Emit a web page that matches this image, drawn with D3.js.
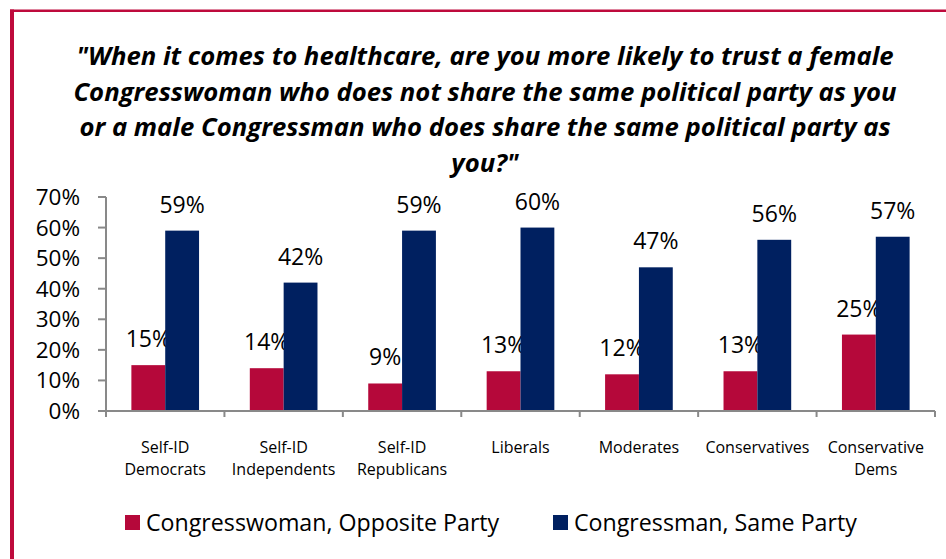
<!DOCTYPE html>
<html><head><meta charset="utf-8">
<script src="https://cdn.jsdelivr.net/npm/d3@7"></script>
<style>body{margin:0;background:#fff}svg{display:block}</style>
</head><body>
<script>
const categories = [["Self-ID","Democrats"],["Self-ID","Independents"],["Self-ID","Republicans"],["Liberals"],["Moderates"],["Conservatives"],["Conservative","Dems"]];
const seriesNames = ["Congresswoman, Opposite Party","Congressman, Same Party"];
const womanOpposite = [0.15,0.14,0.09,0.13,0.12,0.13,0.25];
const manSame = [0.59,0.42,0.59,0.60,0.47,0.56,0.57];
const yTicks = [0,0.1,0.2,0.3,0.4,0.5,0.6,0.7];
const titleLines = ['"When it comes to healthcare, are you more likely to trust a female','Congresswoman who does not share the same political party as you','or a male Congressman who does share the same political party as','you?"'];
const colors = ["#B5083A","#002060"];

const W=946,H=559;
const svg=d3.select("body").append("svg").attr("width",W).attr("height",H);
const font="'Open Sans', Lato, sans-serif";
// frame
svg.append("line").attr("x1",10).attr("x2",W).attr("y1",10.75).attr("y2",10.75).attr("stroke","#BE0A3C").attr("stroke-width",2.5);
svg.append("line").attr("x1",12).attr("x2",12).attr("y1",9.5).attr("y2",H).attr("stroke","#BE0A3C").attr("stroke-width",4);

// title
svg.append("g").selectAll("text").data(titleLines).join("text")
 .attr("x",485).attr("y",(d,i)=>65+i*35.5).attr("text-anchor","middle")
 .attr("font-family",font).attr("font-weight","bold").attr("font-style","italic").attr("font-size",25.7).attr("fill","#000").text(d=>d);

const idx=d3.range(categories.length);
const x=d3.scaleBand().domain(idx).range([106,935]).paddingInner(0).paddingOuter(0);
const y=d3.scaleLinear().domain([0,0.7]).range([411,197]);
const bw=x.bandwidth(), barW=bw/3.5, off=barW*0.75;
const axisCol="#898989";

// y axis
svg.append("line").attr("x1",106).attr("x2",106).attr("y1",y(0.7)).attr("y2",y(0)).attr("stroke",axisCol).attr("stroke-width",2);
const yt=svg.append("g");
yt.selectAll("line").data(yTicks).join("line").attr("x1",98).attr("x2",106).attr("y1",d=>y(d)).attr("y2",d=>y(d)).attr("stroke",axisCol).attr("stroke-width",2);
yt.selectAll("text").data(yTicks).join("text").attr("x",80).attr("y",d=>y(d)+8).attr("text-anchor","end")
 .attr("font-family",font).attr("font-size",22.5).attr("fill","#000").text(d=>d3.format(".0%")(d));

// bars
const series=[womanOpposite,manSame];
series.forEach((vals,s)=>{
  const g=svg.append("g");
  g.selectAll("rect").data(vals).join("rect")
   .attr("x",(d,i)=>x(i)+off+s*barW).attr("width",barW)
   .attr("y",d=>y(d)).attr("height",d=>y(0)-y(d)).attr("fill",colors[s]);
  g.selectAll("text").data(vals).join("text")
   .attr("x",(d,i)=>x(i)+off+s*barW+barW/2).attr("y",d=>y(d)-18).attr("text-anchor","middle")
   .attr("font-family",font).attr("font-size",23).attr("fill","#000").text(d=>d3.format(".0%")(d));
});

// x axis
svg.append("line").attr("x1",98).attr("x2",935).attr("y1",y(0)).attr("y2",y(0)).attr("stroke",axisCol).attr("stroke-width",2);
const bounds=idx.map(i=>x(i)).concat([x(idx[idx.length-1])+bw]);
svg.append("g").selectAll("line").data(bounds).join("line").attr("x1",d=>d).attr("x2",d=>d).attr("y1",y(0)).attr("y2",y(0)+6).attr("stroke",axisCol).attr("stroke-width",2);
const xl=svg.append("g").selectAll("text").data(categories).join("text")
 .attr("font-family",font).attr("font-size",16).attr("fill","#000").attr("text-anchor","middle");
xl.each(function(d,i){
  d3.select(this).selectAll("tspan").data(d).join("tspan").attr("x",x(i)+bw/2).attr("y",(t,j)=>453+j*22).text(t=>t);
});

// legend
const legX=[125,553];
const lg=svg.append("g").selectAll("g").data(seriesNames).join("g");
lg.append("rect").attr("x",(d,i)=>legX[i]).attr("y",515).attr("width",15).attr("height",15).attr("fill",(d,i)=>colors[i]);
lg.append("text").attr("x",(d,i)=>legX[i]+21).attr("y",531).attr("font-family",font).attr("font-size",23.2).attr("fill","#000").text(d=>d);
</script>
</body></html>
